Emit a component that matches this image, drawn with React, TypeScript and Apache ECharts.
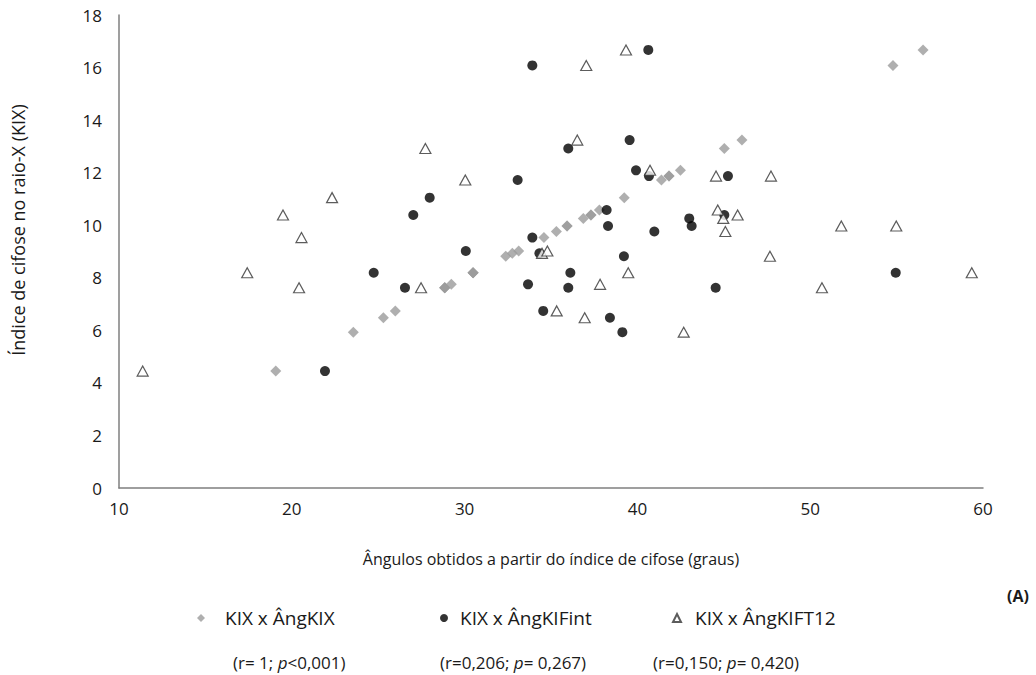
import React, { useEffect, useRef } from "react";
import * as echarts from "echarts";

// KIX values (raio-X) for each of the 31 subjects
const kix = [
  4.45, 5.93, 6.48, 6.74, 7.62, 7.62, 7.62, 7.75, 8.19, 8.19, 8.19, 8.82, 8.93, 9.02, 9.53, 9.76,
  9.97, 9.97, 10.26, 10.39, 10.39, 10.58, 11.05, 11.72, 11.87, 11.87, 12.09, 12.92, 13.24, 16.08, 16.67,
];
// Angles (graus)
const angKIX = [
  19.07, 23.56, 25.3, 25.99, 28.85, 28.85, 28.85, 29.23, 30.49, 30.49, 30.49, 32.38, 32.76, 33.13, 34.59, 35.31,
  35.93, 35.93, 36.87, 37.31, 37.31, 37.8, 39.24, 41.39, 41.83, 41.83, 42.49, 45.03, 46.05, 54.79, 56.53,
];
const angKIFint = [
  21.92, 39.13, 38.41, 34.55, 26.55, 36.0, 44.53, 33.67, 24.74, 36.12, 54.95, 39.22, 34.33, 30.07, 33.92, 40.98,
  38.3, 43.14, 43.0, 27.03, 45.03, 38.22, 27.98, 33.07, 40.67, 45.24, 39.92, 36.0, 39.55, 33.92, 40.63,
];
const angKIFT12 = [
  11.37, 42.68, 36.95, 35.33, 20.42, 27.48, 50.68, 37.84, 17.42, 39.47, 59.35, 47.67, 34.48, 34.79, 20.56, 45.09,
  51.8, 54.98, 44.97, 19.49, 45.8, 44.65, 22.33, 30.04, 44.55, 47.73, 40.73, 27.73, 36.52, 37.04, 39.34,
];

const seriesNames = ["KIX x ÂngKIX", "KIX x ÂngKIFint", "KIX x ÂngKIFT12"];
const statsR = ["(r= 1; ", "(r=0,206; ", "(r=0,150; "];
const statsP = ["<0,001)", "= 0,267)", "= 0,420)"];
const xTitle = "Ângulos obtidos a partir do índice de cifose (graus)";
const yTitle = "Índice de cifose no raio-X (KIX)";
const panelLabel = "(A)";

const FONT = "'Open Sans', sans-serif";

export default function App() {
  const ref = useRef<HTMLDivElement>(null);

  useEffect(() => {
    if (!ref.current) return;
    const chart = echarts.init(ref.current, undefined, { renderer: "svg" });

    const pairs = (xs: number[]) => xs.map((x, i) => [x, kix[i]]);

    const legendPos = [
      { left: 197, pad: 15 },
      { left: 440, pad: 7 },
      { left: 672, pad: 9 },
    ];

    const statsLeft = [233, 440, 653];

    chart.setOption({
      animation: false,
      backgroundColor: "#ffffff",
      grid: { left: 119, top: 15, right: 53, bottom: 187, containLabel: false },
      xAxis: {
        type: "value",
        min: 10,
        max: 60,
        interval: 10,
        axisLine: { show: true, lineStyle: { color: "#7f7f7f", width: 1.5 } },
        axisTick: { show: false },
        splitLine: { show: false },
        axisLabel: { fontSize: 17, color: "#1a1a1a", fontFamily: FONT, margin: 12 },
        name: xTitle,
        nameLocation: "middle",
        nameGap: 63,
        nameTextStyle: { fontSize: 16, color: "#1a1a1a", fontFamily: FONT },
      },
      yAxis: {
        type: "value",
        min: 0,
        max: 18,
        interval: 2,
        axisLine: { show: true, lineStyle: { color: "#7f7f7f", width: 1.5 } },
        axisTick: { show: false },
        splitLine: { show: false },
        axisLabel: { fontSize: 17, color: "#1a1a1a", fontFamily: FONT, margin: 17 },
      },
      legend: seriesNames.map((n, i) => ({
        data: [n],
        left: legendPos[i].left,
        top: 606,
        itemWidth: 8,
        itemHeight: 8,
        padding: 0,
        textStyle: {
          fontSize: 19,
          color: "#1a1a1a",
          fontFamily: FONT,
          padding: [0, 0, 0, legendPos[i].pad],
          lineHeight: 24,
        },
      })),
      graphic: [
        {
          type: "text",
          x: 18,
          y: 230,
          rotation: Math.PI / 2,
          style: {
            text: yTitle,
            fontSize: 18,
            fill: "#1a1a1a",
            fontFamily: FONT,
            align: "center",
            verticalAlign: "middle",
          },
        },
        {
          type: "text",
          x: 1007,
          y: 596,
          style: {
            text: panelLabel,
            fontSize: 16,
            fontWeight: "bold",
            fill: "#1a1a1a",
            fontFamily: FONT,
            align: "left",
            verticalAlign: "middle",
          },
        },
        ...statsR.map((r, i) => ({
          type: "text",
          x: statsLeft[i],
          y: 662,
          style: {
            text: `{n|${r}}{i|p}{n|${statsP[i]}}`,
            align: "left",
            verticalAlign: "middle",
            rich: {
              n: { fontSize: 17, fill: "#1a1a1a", fontFamily: FONT },
              i: { fontSize: 17, fill: "#1a1a1a", fontFamily: FONT, fontStyle: "italic" },
            },
          },
        })),
      ],
      series: [
        {
          name: seriesNames[0],
          type: "scatter",
          symbol: "diamond",
          symbolSize: 11,
          itemStyle: { color: "#9b9b9b" },
          data: pairs(angKIX),
        },
        {
          name: seriesNames[1],
          type: "scatter",
          symbol: "circle",
          symbolSize: 10,
          itemStyle: { color: "#000000" },
          data: pairs(angKIFint),
        },
        {
          name: seriesNames[2],
          type: "scatter",
          symbol: "triangle",
          symbolSize: [11, 10],
          itemStyle: { color: "#ffffff", borderColor: "#333333", borderWidth: 1.2 },
          data: pairs(angKIFT12),
        },
      ],
    });

    return () => chart.dispose();
  }, []);

  return (
    <div
      ref={ref}
      style={{ position: "absolute", left: 0, top: 0, width: 1036, height: 675 }}
    />
  );
}
